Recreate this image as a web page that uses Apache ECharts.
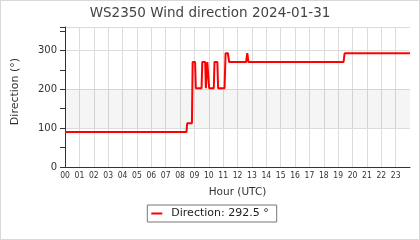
<!DOCTYPE html>
<html><head><meta charset="utf-8">
<script src="https://cdn.jsdelivr.net/npm/echarts@6/dist/echarts.min.js"></script>
<style>html,body{margin:0;padding:0;background:#fff}#c{width:420px;height:240px;box-sizing:border-box;border:1px solid #d8d8d8}</style>
</head><body><div id="c"></div>
<script>
const titleText = 'WS2350 Wind direction 2024-01-31';
const seriesName = 'Direction: 292.5 °';
const hours = [0, 8.45, 8.5, 8.83, 8.88, 9.05, 9.1, 9.5, 9.55, 9.75, 9.8, 9.85, 9.9, 9.98, 10.03, 10.35, 10.4, 10.6, 10.65, 11.1, 11.17, 11.33, 11.42, 12.6, 12.68, 12.76, 19.38, 19.45, 24];
const directions = [90, 90, 112.5, 112.5, 270, 270, 202.5, 202.5, 270, 270, 202.5, 202.5, 270, 270, 202.5, 202.5, 270, 270, 202.5, 202.5, 292.5, 292.5, 270, 270, 292.5, 270, 270, 292.5, 292.5];
const bandRange = [100, 200];

const chart = echarts.init(document.getElementById('c'));
chart.setOption({
  animation: false,
  title: {text: titleText, left: 'center', top: 0,
    textStyle: {fontFamily: 'DejaVu Sans', fontSize: 13.5, fontWeight: 'normal', color: '#444'}},
  legend: {bottom: 17, left: 'center', itemWidth: 11, itemHeight: 2, itemGap: 6,
    borderColor: '#777', borderWidth: 1, borderRadius: 0, padding: [3, 8, 3, 4],
    icon: 'rect',
    textStyle: {fontFamily: 'DejaVu Sans', fontSize: 11, color: '#222', padding: [0, 0, 0, 4]},
    data: [{name: seriesName}]},
  grid: {left: 64, right: 9, top: 26, bottom: 72},
  xAxis: {type: 'value', min: 0, max: 24, interval: 1,
    name: 'Hour (UTC)', nameLocation: 'middle', nameGap: 20,
    nameTextStyle: {fontFamily: 'DejaVu Sans', fontSize: 10.5, color: '#333'},
    axisLine: {lineStyle: {color: '#333'}},
    axisTick: {show: false},
    axisLabel: {margin: 4, fontFamily: 'DejaVu Sans Condensed', fontSize: 8.5, color: '#333', showMaxLabel: false,
      formatter: v => v >= 24 ? '' : String(v).padStart(2, '0')},
    splitLine: {show: true, showMaxLine: false, lineStyle: {color: '#dcdcdc'}}},
  yAxis: {type: 'value', min: 0, max: 360, interval: 50,
    name: 'Direction (°)', nameLocation: 'middle', nameGap: 44, nameRotate: 90,
    nameTextStyle: {fontFamily: 'DejaVu Sans', fontSize: 11, color: '#333', padding: [0, 0, 0, 11]},
    axisLine: {show: true, lineStyle: {color: '#333'}},
    axisTick: {show: true, length: 5, lineStyle: {color: '#333'}},
    axisLabel: {margin: 8, fontFamily: 'DejaVu Sans', fontSize: 10, color: '#333',
      formatter: v => (v % 100 === 0 ? String(v) : '')},
    splitLine: {show: true, lineStyle: {color: ['#dcdcdc', 'rgba(0,0,0,0)']}}},
  series: [{
    name: seriesName, type: 'line', showSymbol: false, symbol: 'none',
    color: '#ff0000', lineStyle: {width: 2, color: '#ff0000'},
    data: hours.map((h, i) => [h, directions[i]]),
    markArea: {silent: true, itemStyle: {color: 'rgba(0,0,0,0.04)'},
      data: [[{yAxis: bandRange[0]}, {yAxis: bandRange[1]}]]}
  }]
});
</script></body></html>
